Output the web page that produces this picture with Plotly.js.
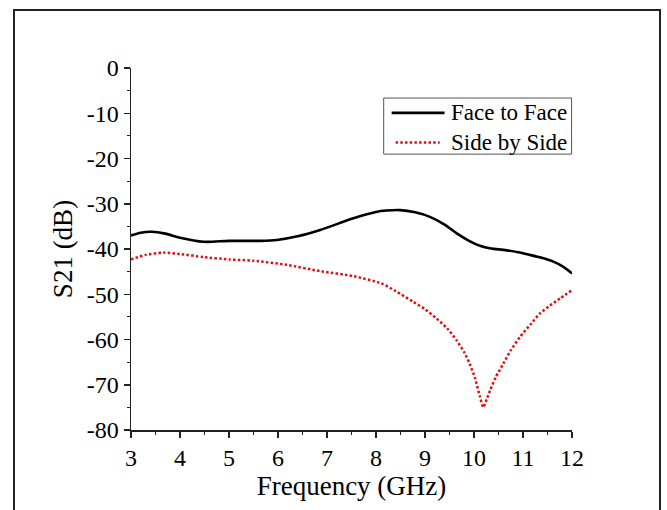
<!DOCTYPE html>
<html>
<head>
<meta charset="utf-8">
<script src="https://cdn.plot.ly/plotly-3.0.1.min.js"></script>
<style>
  html, body { margin: 0; padding: 0; background: #fff; }
  #wrap { position: relative; width: 667px; height: 510px; overflow: hidden; }
  #chart { width: 667px; height: 510px; }
  #frame { position: absolute; left: 13px; top: 9px; width: 644px; height: 520px; border: 2px solid #222; pointer-events: none; }
</style>
</head>
<body>
<div id="wrap"><div id="chart"></div><div id="frame"></div></div>
<script>
// Face to Face (black solid)
const faceX = [3.0, 3.2, 3.42, 3.7, 4.0, 4.48, 5.0, 5.64, 5.98, 6.4, 6.86, 7.54, 8.0, 8.22, 8.49, 8.8, 9.1, 9.4, 9.64, 9.9, 10.12, 10.35, 10.6, 10.9, 11.14, 11.4, 11.62, 11.8, 12.0];
const faceY = [-37.0, -36.4, -36.2, -36.6, -37.5, -38.4, -38.2, -38.2, -38.0, -37.2, -35.8, -33.2, -31.8, -31.5, -31.4, -31.9, -32.9, -34.6, -36.5, -38.2, -39.3, -39.9, -40.2, -40.7, -41.3, -42.0, -42.8, -43.8, -45.4];
// Side by Side (red dotted)
const sideX = [3.0, 3.3, 3.66, 4.0, 4.48, 5.0, 5.5, 6.18, 6.86, 7.54, 8.11, 8.4, 8.75, 9.0, 9.23, 9.45, 9.64, 9.8, 9.91, 10.02, 10.12, 10.19, 10.26, 10.33, 10.45, 10.6, 10.75, 10.94, 11.15, 11.35, 11.55, 11.76, 12.0];
const sideY = [-42.3, -41.3, -40.8, -41.1, -41.8, -42.3, -42.6, -43.5, -44.9, -46.0, -47.6, -49.3, -51.6, -53.3, -55.3, -57.5, -60.1, -62.8, -65.3, -68.5, -72.6, -75.0, -73.2, -71.2, -68.2, -65.3, -62.4, -59.4, -56.7, -54.2, -52.5, -50.9, -49.1];
const legendNames = ["Face to Face", "Side by Side"];
const xTickVals = [3, 4, 5, 6, 7, 8, 9, 10, 11, 12];
const xTickText = ["3", "4", "5", "6", "7", "8", "9", "10", "11", "12"];
const yTickVals = [0, -10, -20, -30, -40, -50, -60, -70, -80];
const yTickText = ["0", "-10", "-20", "-30", "-40", "-50", "-60", "-70", "-80"];
const xTitle = "Frequency (GHz)";
const yTitle = "S21 (dB)";

const fontFam = "Liberation Serif, Times New Roman, serif";
const faceLine = { color: "#000000", width: 2.6 };
const sideLine = { color: "#e01010", width: 2.5, dash: "2.5px,2.2px" };

const traces = [
  { x: faceX, y: faceY, name: legendNames[0], mode: "lines", showlegend: false,
    line: Object.assign({ shape: "spline", smoothing: 0.8 }, faceLine) },
  { x: sideX, y: sideY, name: legendNames[1], mode: "lines", showlegend: false,
    line: Object.assign({ shape: "spline", smoothing: 0.6 }, sideLine) }
];

// manual legend (paper coordinates)
const legBox = { x0: 0.573, x1: 0.999, y0: 0.762, y1: 0.917 };
const legRows = [0.876, 0.794];
const legLineX = [[0.591, 0.711], [0.600, 0.700]];
const legTextX = 0.722;

const layout = {
  width: 667, height: 510,
  margin: { l: 131, r: 94.5, t: 68, b: 80 },
  paper_bgcolor: "#ffffff", plot_bgcolor: "#ffffff",
  font: { family: fontFam, color: "#000", size: 22 },
  showlegend: false,
  shapes: [
    { type: "rect", xref: "paper", yref: "paper", x0: legBox.x0, x1: legBox.x1, y0: legBox.y0, y1: legBox.y1,
      line: { color: "#555", width: 1 }, fillcolor: "#fff" },
    { type: "line", xref: "paper", yref: "paper", x0: legLineX[0][0], x1: legLineX[0][1], y0: legRows[0], y1: legRows[0], line: faceLine },
    { type: "line", xref: "paper", yref: "paper", x0: legLineX[1][0], x1: legLineX[1][1], y0: legRows[1], y1: legRows[1], line: sideLine }
  ],
  annotations: legendNames.map((t, i) => ({
    text: t, xref: "paper", yref: "paper", x: legTextX, y: legRows[i],
    xanchor: "left", yanchor: "middle", showarrow: false,
    font: { family: fontFam, size: 23, color: "#000" }
  })),
  xaxis: {
    range: [3, 12], tickvals: xTickVals, ticktext: xTickText,
    showgrid: false, zeroline: false,
    showline: true, linecolor: "#222", linewidth: 1.5,
    ticks: "outside", ticklen: 6, tickwidth: 1.5, tickcolor: "#222",
    minor: { dtick: 0.5, tick0: 3, ticks: "outside", ticklen: 3, tickwidth: 1.2, tickcolor: "#222", showgrid: false },
    tickfont: { family: fontFam, size: 24, color: "#000" },
    title: { text: xTitle, font: { family: fontFam, size: 27, color: "#000" }, standoff: 2 }
  },
  yaxis: {
    range: [-80, 0], tickvals: yTickVals, ticktext: yTickText,
    showgrid: false, zeroline: false,
    showline: true, linecolor: "#222", linewidth: 1.5,
    ticks: "outside", ticklen: 6, tickwidth: 1.5, tickcolor: "#222",
    minor: { dtick: 5, tick0: 0, ticks: "outside", ticklen: 3, tickwidth: 1.2, tickcolor: "#222", showgrid: false },
    tickfont: { family: fontFam, size: 24, color: "#000" },
    title: { text: yTitle, font: { family: fontFam, size: 27, color: "#000" }, standoff: 6 }
  }
};

Plotly.newPlot("chart", traces, layout, { displayModeBar: false, staticPlot: true });
</script>
</body>
</html>
